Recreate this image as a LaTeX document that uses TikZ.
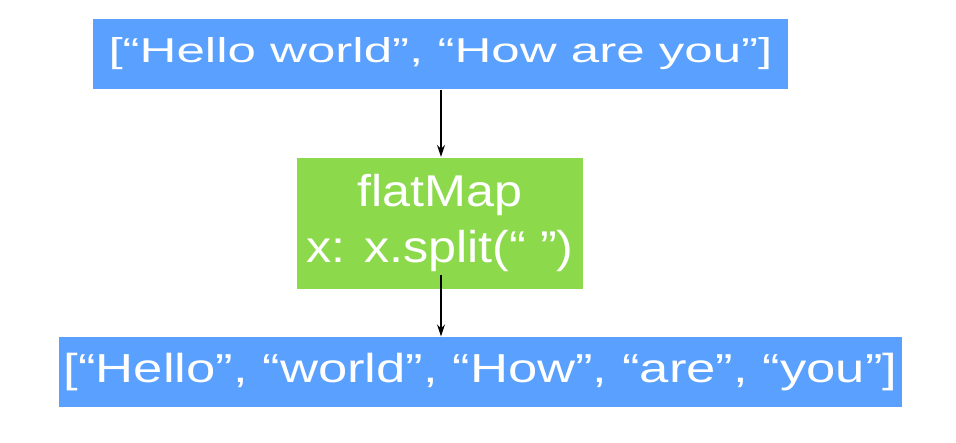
\documentclass[tikz,border=0pt]{standalone}
\usepackage{fontspec}
\setmainfont{Liberation Sans}
\usepackage{xcolor}
\usetikzlibrary{arrows.meta,positioning,calc}
\definecolor{boxblue}{RGB}{89,160,255}
\definecolor{boxgreen}{RGB}{140,218,76}
\newcommand{\wide}[2]{\scalebox{#1}[1]{#2}}

\begin{document}
\begin{tikzpicture}[x=1pt,y=-1pt,
  bluebox/.style={fill=boxblue,text=white,inner sep=0pt,minimum height=70pt},
  greenbox/.style={fill=boxgreen,text=white,inner sep=0pt,align=center,
    minimum width=286pt,minimum height=131pt,font=\fontsize{44.5}{56}\selectfont},
  every path/.style={line width=1.3pt}]
\useasboundingbox (0,0) rectangle (956,442);
\node[bluebox,minimum width=695pt,font=\fontsize{34.5}{40}\selectfont] (lines) at (440.5,54)
  {\wide{1.48}{[“Hello world”, “How are you”]}};
\node[greenbox] (map) at (440,223) {\wide{1.13}{flatMap}\\\wide{1.13}{x: x.split(“ ”)}};
\node[bluebox,minimum width=843pt,font=\fontsize{40.5}{48}\selectfont] (words) at (480.5,372)
  {\wide{1.30}{[“Hello”, “world”, “How”, “are”, “you”]}};
\coordinate (mapout) at (441,275);
\draw[-{Stealth[length=12pt,width=8pt]}] (lines.south-|mapout) -- (map.north-|mapout);
\draw[-{Stealth[length=12pt,width=8pt]}] (mapout) -- (words.north-|mapout);
\end{tikzpicture}
\end{document}
